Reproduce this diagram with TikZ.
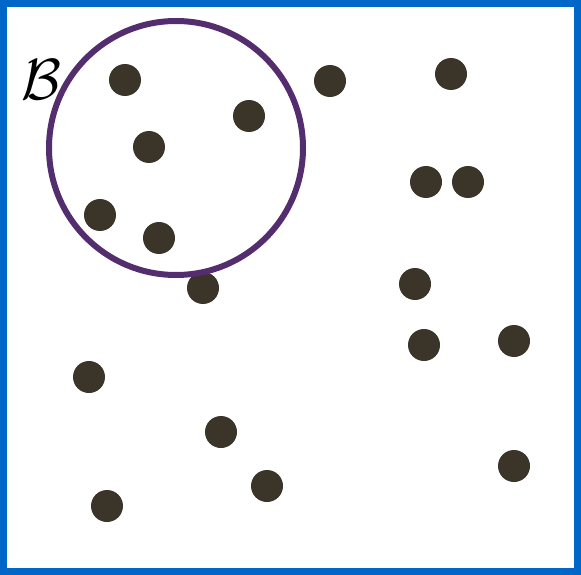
\documentclass[tikz,border=0pt]{standalone}
\usepackage{amsmath,amssymb}
\usepackage{graphicx}
\usepackage{xcolor}
\usepackage{tikz}
\usetikzlibrary{positioning, calc}
\definecolor{frameblue}{HTML}{0066C8}
\definecolor{ballpurple}{HTML}{532D6E}
\definecolor{ptbrown}{HTML}{3B3429}
\tikzset{
  pt/.style    = {circle, fill=ptbrown, draw=none, minimum size=32pt, inner sep=0pt},
  frame/.style = {draw=frameblue, line width=7pt},
  ball/.style  = {draw=ballpurple, line width=6pt},
}

\begin{document}
\begin{tikzpicture}[x=1pt, y=-1pt]
  \useasboundingbox (0,0) rectangle (581,575);

  % Domain
  \draw[frame] (3.5,3.5) rectangle (577.5,571.5);

  % Points
  \foreach \n/\px/\py in {p1/125/80, p2/330/81, p3/451/74, p4/249/116,
      p5/149/147, p6/426/182, p7/468/182, p8/100/215, p9/159/238,
      p10/203/288, p11/415/284, p12/424/345, p13/514/341, p14/89/377,
      p15/221/432, p16/514/466, p17/267/486, p18/107/506}
    \node[pt] (\n) at (\px,\py) {};

  % Ball
  \node[ball, circle, minimum size=254pt, inner sep=0pt] (B) at (176,148) {};
  \node[inner sep=0pt] (Blab) at (41,80) {\scalebox{5.8}{$\mathcal{B}$}};
\end{tikzpicture}
\end{document}
